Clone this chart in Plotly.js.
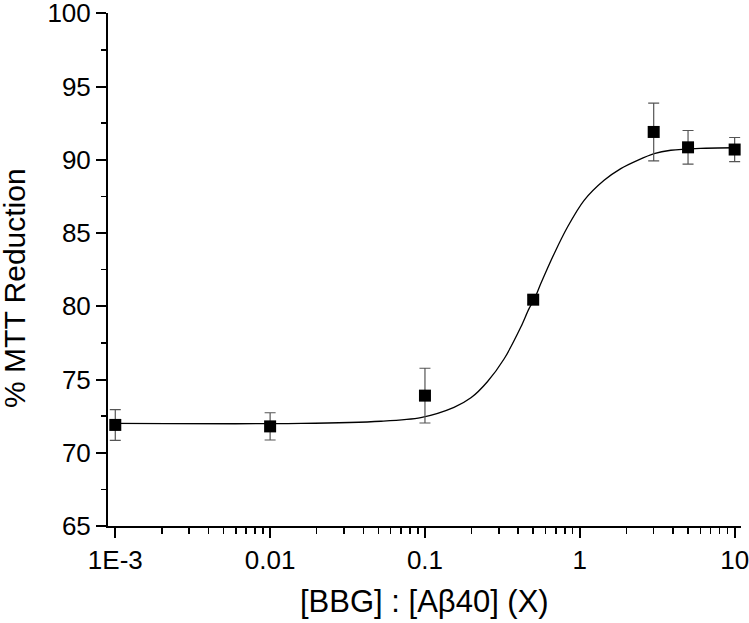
<!DOCTYPE html>
<html>
<head>
<meta charset="utf-8">
<script src="https://cdn.plot.ly/plotly-3.0.1.min.js"></script>
<style>
  html, body { margin: 0; padding: 0; background: #fff; }
  #chart { width: 749px; height: 623px; }
</style>
</head>
<body>
<div id="chart"></div>
<script>
// measured points (ratio BBG : Abeta40)
const ratio = [0.001, 0.01, 0.1, 0.5, 3, 5, 10];
const mttReduction = [71.9, 71.8, 73.9, 80.45, 91.9, 90.85, 90.7];
const mttError = [1.05, 0.93, 1.87, 0.3, 1.97, 1.15, 0.82];

// fitted curve
const fitRatio = [0.001, 0.016, 0.052, 0.094, 0.154, 0.198, 0.253, 0.324, 0.416, 0.470,
                  0.507, 0.560, 0.683, 0.833, 1.066, 1.435, 1.84, 2.36, 3.02, 3.87, 6.0, 10];
const fitValue = [72.0, 72.0, 72.15, 72.4, 73.1, 73.75, 74.85, 76.4, 78.58, 79.84,
                  80.45, 81.55, 83.59, 85.41, 87.23, 88.6, 89.4, 89.96, 90.42, 90.65, 90.78, 90.82];

const xTickVals = [0.001, 0.01, 0.1, 1, 10];
const xTickText = ['1E-3', '0.01', '0.1', '1', '10'];
const yTickVals = [65, 70, 75, 80, 85, 90, 95, 100];

// minor ticks 2..9 in each decade
const xMinor = [];
xTickVals.slice(0, -1).forEach(d => {
    for (let k = 2; k <= 9; k++) xMinor.push(d * k);
});
const yMinor = yTickVals.slice(0, -1).map(v => v + 2.5);

const font = 'Arial, "Liberation Sans", sans-serif';

const fit = {
    x: fitRatio,
    y: fitValue,
    type: 'scatter',
    mode: 'lines',
    line: {color: '#000', width: 1.3, shape: 'spline', smoothing: 0.8},
    hoverinfo: 'skip'
};

const points = {
    x: ratio,
    y: mttReduction,
    type: 'scatter',
    mode: 'markers',
    marker: {symbol: 'square', size: 12, color: '#000'},
    error_y: {
        type: 'data',
        array: mttError,
        visible: true,
        color: '#555',
        thickness: 1.2,
        width: 5.5
    }
};

const layout = {
    width: 749,
    height: 623,
    margin: {l: 108, r: 8, t: 13, b: 97},
    paper_bgcolor: '#fff',
    plot_bgcolor: '#fff',
    showlegend: false,
    font: {family: font, size: 26, color: '#000'},
    xaxis: {
        type: 'log',
        range: [Math.log10(0.001) - 0.047, Math.log10(10) + 0.041],
        tickmode: 'array',
        tickvals: xTickVals,
        ticktext: xTickText,
        ticks: 'outside',
        ticklen: 10,
        tickwidth: 2,
        tickcolor: '#000',
        ticklabeloverflow: 'allow',
        minor: {
            tickmode: 'array',
            tickvals: xMinor,
            ticks: 'outside',
            ticklen: 6,
            tickwidth: 1.5,
            tickcolor: '#000',
            showgrid: false
        },
        showline: true,
        linecolor: '#000',
        linewidth: 2,
        showgrid: false,
        zeroline: false,
        tickfont: {size: 26}
    },
    yaxis: {
        range: [65, 100.02],
        tickmode: 'array',
        tickvals: yTickVals,
        ticks: 'outside',
        ticklen: 10,
        tickwidth: 2,
        tickcolor: '#000',
        ticklabeloverflow: 'allow',
        minor: {
            tickmode: 'array',
            tickvals: yMinor,
            ticks: 'outside',
            ticklen: 5,
            tickwidth: 1.5,
            tickcolor: '#000',
            showgrid: false
        },
        showline: true,
        linecolor: '#000',
        linewidth: 2,
        showgrid: false,
        zeroline: false,
        tickfont: {size: 26}
    },
    annotations: [
        {
            text: '[BBG] : [Aβ40] (X)',
            xref: 'paper', yref: 'paper',
            x: 0.5, y: -0.148,
            xanchor: 'center', yanchor: 'middle',
            showarrow: false,
            font: {size: 31}
        },
        {
            text: '% MTT Reduction',
            xref: 'paper', yref: 'paper',
            x: -0.147, y: 0.464,
            xanchor: 'center', yanchor: 'middle',
            textangle: -90,
            showarrow: false,
            font: {size: 30}
        }
    ]
};

Plotly.newPlot('chart', [fit, points], layout, {displayModeBar: false, staticPlot: true});
</script>
</body>
</html>
